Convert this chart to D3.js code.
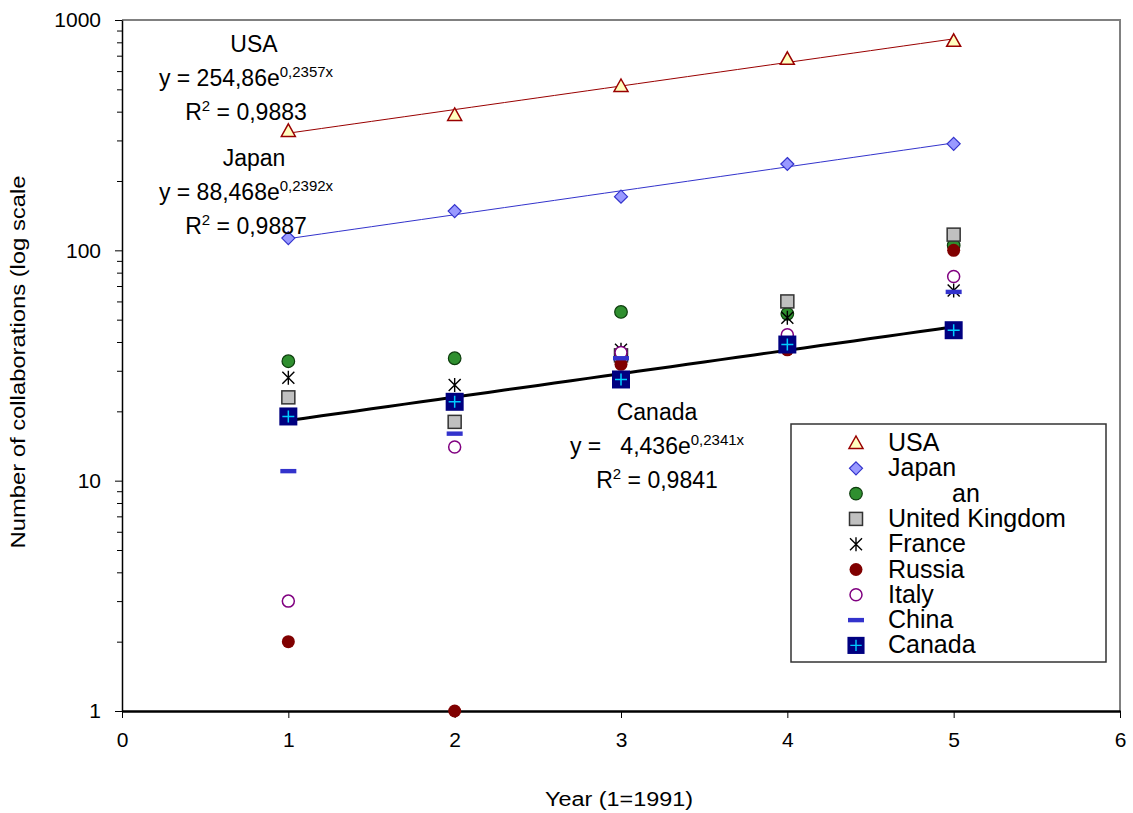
<!DOCTYPE html>
<html>
<head>
<meta charset="utf-8">
<script src="https://d3js.org/d3.v7.min.js"></script>
<style>
  body { margin: 0; background: #fff; }
  svg { font-family: "Liberation Sans", Arial, sans-serif; }
</style>
</head>
<body>
<svg width="1133" height="813"></svg>
<script>
var width  = 1133;
var height = 813;

// years 1..5 (1 = 1991)
var years = [1, 2, 3, 4, 5];

// collaboration counts
var usa     = [330, 387, 517, 678, 812];
var japan   = [113, 148, 171, 237, 290];
var germany = [33, 34, 54, 53, 105];
var uk      = [23, 18, 35, 60, 117];
var france  = [28, 26, 37, 51, 67];
var russia  = [2, 1, 32, 37, 100];
var italy   = [3, 14, 36, 43, 77];
var china   = [11, 16, 34, 38, 66];
var canada  = [19, 22, 27.5, 39, 45];

var seriesNames = ['USA', 'Japan', 'an', 'United Kingdom', 'France', 'Russia', 'Italy', 'China', 'Canada'];
var seriesData  = [usa, japan, germany, uk, france, russia, italy, china, canada];
var seriesKind  = ['triangle', 'diamond', 'green', 'square', 'star', 'russia', 'italy', 'dash', 'canada'];

var xTicks = [0, 1, 2, 3, 4, 5, 6];
var yTicks = [1, 10, 100, 1000];

// exponential trendlines: a * e^(b x)
var fitNames = ['USA', 'Japan', 'Canada'];
var fitA     = [254.86, 88.468, 14.436];
var fitB     = [0.2357, 0.2392, 0.2341];
var fitR2    = ['0,9883', '0,9887', '0,9841'];
var fitEqA   = ['254,86', '88,468', '  4,436'];
var fitEqB   = ['0,2357x', '0,2392x', '0,2341x'];

var plotLeft = 122, plotRight = 1120, plotTop = 20, plotBottom = 711;

var svg = d3.select('svg');

var xScale = d3.scaleLinear()
                .domain([0, 6])
                .range([plotLeft, plotRight]);

var yScale = d3.scaleLog()
                .domain([1, 1000])
                .range([plotBottom, plotTop]);

// plot frame (top and right edges)
svg.append('path')
    .attr('d', 'M' + plotLeft + ',' + plotTop + 'H' + plotRight + 'V' + plotBottom)
    .attr('fill', 'none')
    .attr('stroke', '#808080')
    .attr('stroke-width', 2);

// y axis with minor ticks
var minor = [];
[1, 10, 100].forEach(function(d) {
    for (var k = 2; k <= 9; k++) minor.push(d * k);
});

var yAxis = d3.axisLeft(yScale)
                .tickValues(yTicks)
                .tickFormat(d3.format('d'))
                .tickSize(7)
                .tickPadding(14)
                .tickSizeOuter(0);

var yMinor = d3.axisLeft(yScale)
                .tickValues(minor)
                .tickFormat('')
                .tickSize(5)
                .tickSizeOuter(0);

var gyMinor = svg.append('g')
    .attr('transform', 'translate(' + plotLeft + ',0)')
    .call(yMinor);
gyMinor.select('.domain').remove();

var gy = svg.append('g')
    .attr('transform', 'translate(' + plotLeft + ',0)')
    .call(yAxis);

gy.selectAll('text')
    .attr('font-size', 21)
    .attr('font-family', '"Liberation Sans", Arial, sans-serif')
    .attr('fill', '#000');

var xAxis = d3.axisBottom(xScale)
                .tickValues(xTicks)
                .tickFormat(d3.format('d'))
                .tickSize(7)
                .tickPadding(14)
                .tickSizeOuter(0);

var gx = svg.append('g')
    .attr('transform', 'translate(0,' + plotBottom + ')')
    .call(xAxis);

gx.selectAll('text')
    .attr('font-size', 21)
    .attr('font-family', '"Liberation Sans", Arial, sans-serif')
    .attr('fill', '#000');

gx.select('.domain').attr('stroke-width', 2.5);
gy.select('.domain').attr('stroke-width', 1.5);

// axis titles
svg.append('text')
    .attr('x', 619)
    .attr('y', 806)
    .attr('text-anchor', 'middle')
    .attr('font-size', 20)
    .attr('textLength', 148)
    .attr('lengthAdjust', 'spacingAndGlyphs')
    .text('Year (1=1991)');

svg.append('text')
    .attr('transform', 'rotate(-90)')
    .attr('x', -362)
    .attr('y', 25)
    .attr('text-anchor', 'middle')
    .attr('font-size', 20)
    .attr('textLength', 373)
    .attr('lengthAdjust', 'spacingAndGlyphs')
    .text('Number of collaborations (log scale');

// trendlines
var fitColor = ['#990000', '#3333cc', '#000'];
var fitWidth = [1, 1, 3];
var fitX = d3.range(1, 5.001, 0.1);

fitA.forEach(function(a, i) {
    var line = d3.line()
        .x(function(x) { return xScale(x); })
        .y(function(x) { return yScale(a * Math.exp(fitB[i] * x)); });
    svg.append('path')
        .datum(fitX)
        .attr('d', line)
        .attr('fill', 'none')
        .attr('stroke', fitColor[i])
        .attr('stroke-width', fitWidth[i]);
});

// marker drawing
function drawMarker(g, kind) {
    if (kind === 'triangle') {
        g.append('path').attr('d', 'M0,-7L7,5.5L-7,5.5Z')
            .attr('fill', '#ffffc0').attr('stroke', '#990000').attr('stroke-width', 1.5);
    } else if (kind === 'diamond') {
        g.append('path').attr('d', 'M0,-6.5L6.5,0L0,6.5L-6.5,0Z')
            .attr('fill', '#9999ff').attr('stroke', '#3333cc').attr('stroke-width', 1.2);
    } else if (kind === 'green') {
        g.append('circle').attr('r', 6.3)
            .attr('fill', '#2f8f2f').attr('stroke', '#0d3d0d').attr('stroke-width', 1.2);
    } else if (kind === 'square') {
        g.append('rect').attr('x', -6.5).attr('y', -6.5).attr('width', 13).attr('height', 13)
            .attr('fill', '#c0c0c0').attr('stroke', '#333').attr('stroke-width', 1.5);
    } else if (kind === 'star') {
        g.append('path').attr('d', 'M-6,-6L6,6M-6,6L6,-6M0,-7V7')
            .attr('stroke', '#000').attr('stroke-width', 1.4).attr('fill', 'none');
    } else if (kind === 'russia') {
        g.append('circle').attr('r', 6.5).attr('fill', '#800000');
    } else if (kind === 'italy') {
        g.append('circle').attr('r', 6)
            .attr('fill', '#fff').attr('stroke', '#800080').attr('stroke-width', 1.5);
    } else if (kind === 'dash') {
        g.append('rect').attr('x', -8).attr('y', -2.2).attr('width', 16).attr('height', 4.4)
            .attr('fill', '#3333cc');
    } else if (kind === 'canada') {
        g.append('rect').attr('x', -9).attr('y', -9).attr('width', 18).attr('height', 18)
            .attr('fill', '#000080');
        g.append('path').attr('d', 'M-6,0H6M0,-6V6')
            .attr('stroke', '#00ccff').attr('stroke-width', 1.5);
    }
}

seriesData.forEach(function(vals, i) {
    svg.append('g')
        .selectAll('g')
        .data(vals)
        .enter()
        .append('g')
            .attr('transform', function(d, j) {
                return 'translate(' + xScale(years[j]) + ',' + yScale(d) + ')';
            })
            .each(function() { drawMarker(d3.select(this), seriesKind[i]); });
});

// trendline labels
var labelX = [246, 246, 657];
var labelY = [52, 166, 420];

fitNames.forEach(function(name, i) {
    var g = svg.append('g')
        .attr('font-size', 23)
        .attr('text-anchor', 'middle');
    g.append('text')
        .attr('x', labelX[i] + (i === 2 ? 0 : 8))
        .attr('y', labelY[i])
        .text(name);
    var eq = g.append('text')
        .attr('x', labelX[i])
        .attr('y', labelY[i] + 34)
        .attr('xml:space', 'preserve');
    eq.append('tspan').text('y = ' + fitEqA[i] + 'e');
    eq.append('tspan').attr('font-size', 15).attr('dy', -9).text(fitEqB[i]);
    var r = g.append('text')
        .attr('x', labelX[i])
        .attr('y', labelY[i] + 68);
    r.append('tspan').text('R');
    r.append('tspan').attr('font-size', 15).attr('dy', -9).text('2');
    r.append('tspan').attr('dy', 9).text(' = ' + fitR2[i]);
});

// legend
var legend = svg.append('g')
    .attr('transform', 'translate(791,424)');

legend.append('rect')
    .attr('width', 315)
    .attr('height', 238)
    .attr('fill', '#fff')
    .attr('stroke', '#333')
    .attr('stroke-width', 1.5);

seriesNames.forEach(function(name, i) {
    var row = legend.append('g')
        .attr('transform', 'translate(0,' + (19 + i * 25.3) + ')');
    var m = row.append('g').attr('transform', 'translate(65,0)');
    if (seriesKind[i] === 'canada') m.attr('transform', 'translate(65,0) scale(0.95)');
    drawMarker(m, seriesKind[i]);
    row.append('text')
        .attr('x', name === 'an' ? 161 : 97)
        .attr('y', 8)
        .attr('font-size', 25)
        .text(name);
});
</script>
</body>
</html>
